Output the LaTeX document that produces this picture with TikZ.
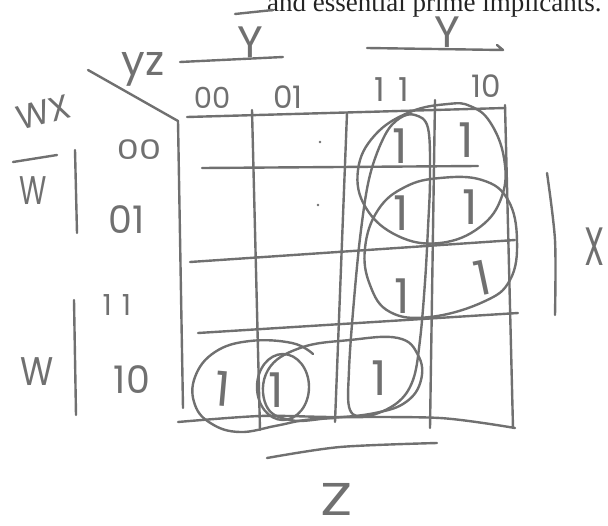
\documentclass[tikz,border=0pt]{standalone}
\usepackage{fontspec}
\usepackage{graphicx}
\setmainfont{Liberation Serif}
\newfontfamily\hand{Poppins}
\definecolor{pencil}{RGB}{112,112,112}
\definecolor{ink}{RGB}{35,35,35}
\newcommand\fsz[1]{\fontsize{#1}{#1}\selectfont}
\newcommand\hsc[2]{\scalebox{#1}[1]{#2}}
\tikzset{
  pen/.style={draw=pencil,line width=2.4pt,line cap=round,line join=round},
  lbl/.style={text=pencil,inner sep=0pt,font=\hand\fsz{#1}},
  lbl/.default=32,
  one/.style={text=pencil,inner sep=0pt,font=\hand\fsz{48}},
}
\begin{document}
\begin{tikzpicture}[x=1pt,y=-1pt]
\useasboundingbox (0,0) rectangle (608,525);
% title (cut off at top)
\node[anchor=base west,text=ink,inner sep=0pt,font=\fsz{27}] (title) at (267,11) {and essential prime implicants.};

% grid
\draw[pen] (88,70) -- (178,121) -- (183,408);
\draw[pen] (187,117) -- (505,108);
\draw[pen] (202,168) -- (478,166);
\draw[pen] (190,262) -- (515,240);
\draw[pen] (198,333) -- (518,313);
\draw[pen] plot[smooth] coordinates {(178,422) (260,416) (330,417) (440,418) (515,428)};
\draw[pen] (252,110) -- (260,430);
\draw[pen] (347,113) -- (335,422);
\draw[pen] (435,100) -- (430,428);
\draw[pen] (505,105) -- (513,428);

% corner label
\node[lbl=42,anchor=base] (yz) at (143,75) {yz};
\node[lbl=34,rotate=15,text height=24pt,text depth=0pt] (wx) at (44,112) {WX};

% top labels
\node[lbl=44] (ybar) at (250,42) {Y};
\draw[pen] (235,14) -- (273,10);
\draw[pen] (180,62) -- (283,57);
\node[lbl=44] (y) at (447,32) {Y};
\draw[pen] (367,48) -- (503,50) -- (497,45);

% column headings
\node[lbl=29] (c00) at (212,98) {00};
\node[lbl=31] (c01) at (288,97) {01};
\node[lbl=33] (c11) at (392,90) {1\hspace{14pt}1};
\node[lbl=31] (c10) at (486,86) {10};

% row headings
\node[lbl=27] (r00) at (139,150) {\hsc{1.3}{00}};
\node[lbl=38] (r01) at (127,220) {01};
\node[lbl=29] (r11) at (117,305) {1\hspace{10pt}1};
\node[lbl=38] (r10) at (132,380) {10};

% side labels
\node[lbl=40,text height=28pt,text depth=0pt] (wbar) at (33,190) {\hsc{0.7}{W}};
\draw[pen] (13,162) -- (57,155);
\draw[pen] (75,150) -- (77,233);
\node[lbl=40] (w) at (37,372) {\hsc{0.85}{W}};
\draw[pen] (74,300) -- (76,415);
\node[lbl=54] (x) at (595,247) {\hsc{0.6}{X}};
\draw[pen] plot[smooth] coordinates {(547,173) (555,240) (555,315)};
\draw[pen] plot[smooth] coordinates {(267,458) (340,447) (437,443)};
\node[lbl=46,text height=32pt,text depth=0pt] (z) at (337,499) {\hsc{1.3}{Z}};

% ones
\node[one] (m3) at (400,146) {1};
\node[one] (m2) at (466,140) {1};
\node[one] (m7) at (401,213) {1};
\node[one] (m6) at (470,207) {1};
\node[one] (m15) at (402,296) {1};
\node[one,rotate=12] (m14) at (482,278) {1};
\node[one,rotate=-5] (m8) at (223,389) {1};
\node[one] (m9) at (276,390) {1};
\node[one] (m11) at (379,378) {1};

% specks
\fill[pencil] (320,142) circle (1.3pt);
\fill[pencil] (318,205) circle (1.3pt);

% loops
\draw[pen] plot[smooth cycle,tension=0.7] coordinates {(448,104) (410,112) (375,135) (358,170) (366,208) (398,236) (440,243) (480,227) (502,196) (504,158) (490,122) (470,106)};
\draw[pen] plot[smooth cycle,tension=0.7] coordinates {(440,178) (482,180) (508,200) (517,240) (510,280) (483,302) (430,317) (390,312) (370,285) (365,248) (378,210) (405,187)};
\draw[pen] plot[smooth cycle,tension=0.6] coordinates {(415,115) (428,128) (430,178) (428,228) (425,282) (420,340) (413,380) (397,403) (368,416) (350,410) (349,370) (354,300) (361,230) (370,175) (385,135) (400,118)};
\draw[pen] plot[smooth cycle,tension=0.7] coordinates {(268,370) (300,348) (350,340) (398,338) (418,355) (421,380) (406,402) (375,413) (330,418) (290,420) (266,405)};
\draw[pen] (283,387) ellipse [x radius=26pt,y radius=33pt];
\draw[pen] plot[smooth,tension=0.7] coordinates {(313,354) (292,343) (250,341) (215,352) (195,377) (195,405) (212,424) (240,432) (275,426) (305,420) (335,418)};
\end{tikzpicture}
\end{document}
